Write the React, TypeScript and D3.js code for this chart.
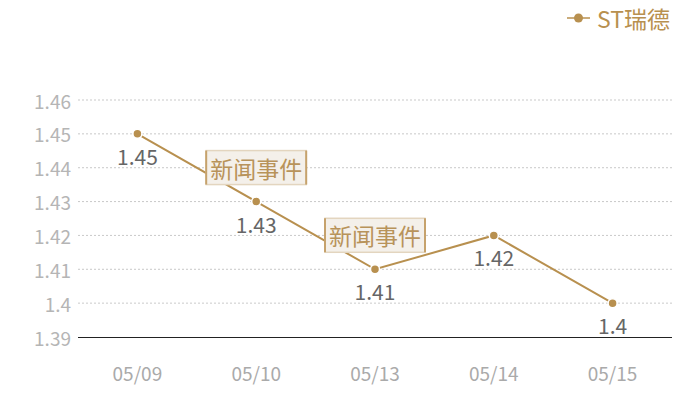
import * as d3 from "d3";

const categories = ["05/09", "05/10", "05/13", "05/14", "05/15"];
const values = [1.45, 1.43, 1.41, 1.42, 1.4];
const yTickValues = [1.39, 1.4, 1.41, 1.42, 1.43, 1.44, 1.45, 1.46];
const eventDates = ["05/10", "05/13"];
const eventLabel = "新闻事件";
const seriesName = "ST瑞德";

const W = 700;
const H = 400;
const margin = { top: 100, right: 28, bottom: 63, left: 78 };
const gold = "#b8904f";
const font = "'Noto Sans CJK SC', 'Noto Sans', sans-serif";

export default function App() {
  const x = d3
    .scaleBand()
    .domain(categories)
    .range([margin.left, W - margin.right]);
  const y = d3
    .scaleLinear()
    .domain([1.39, 1.46])
    .range([H - margin.bottom, margin.top]);
  const cx = (c: string) => (x(c) ?? 0) + x.bandwidth() / 2;

  const line = d3
    .line<number>()
    .x((_, i) => cx(categories[i]))
    .y((v) => y(v));

  return (
    <svg
      width={W}
      height={H}
      style={{ position: "absolute", left: 0, top: 0, fontFamily: font }}
    >
      <rect width={W} height={H} fill="#fff" />

      {/* legend */}
      <line x1={567} x2={590} y1={18} y2={18} stroke={gold} strokeWidth={1.5} />
      <circle cx={578.5} cy={18} r={4.5} fill={gold} />
      <text x={597} y={18} dominantBaseline="central" fontSize={23} fill={gold}>
        {seriesName}
      </text>

      {/* grid */}
      {yTickValues.map((t) => (
        <g key={t}>
          {t !== 1.39 && (
            <line
              x1={margin.left}
              x2={W - margin.right}
              y1={y(t)}
              y2={y(t)}
              stroke="#bbb"
              strokeDasharray="2,2"
              strokeWidth={0.8}
            />
          )}
          <text
            x={margin.left - 7}
            y={y(t)}
            textAnchor="end"
            dominantBaseline="central"
            fontSize={19}
            fill="#b5b5b5"
          >
            {d3.format("")(t)}
          </text>
        </g>
      ))}
      <line
        x1={margin.left}
        x2={W - margin.right}
        y1={Math.round(y(1.39)) + 0.5}
        y2={Math.round(y(1.39)) + 0.5}
        stroke="#222"
        strokeWidth={1}
      />

      {categories.map((c) => (
        <text
          key={c}
          x={cx(c)}
          y={H - margin.bottom + 35}
          textAnchor="middle"
          dominantBaseline="central"
          fontSize={19}
          fill="#aaa"
        >
          {c}
        </text>
      ))}

      {/* series */}
      <path d={line(values) ?? ""} fill="none" stroke={gold} strokeWidth={2} />
      {values.map((v, i) => (
        <g key={i}>
          <circle
            cx={cx(categories[i])}
            cy={y(v)}
            r={4.5}
            fill={gold}
            stroke="#fff"
            strokeWidth={1.5}
          />
          <text
            x={cx(categories[i])}
            y={y(v) + 22}
            textAnchor="middle"
            dominantBaseline="central"
            fontSize={21}
            fill="#666"
          >
            {v}
          </text>
        </g>
      ))}

      {/* events */}
      {eventDates.map((d) => {
        const i = categories.indexOf(d);
        const px = cx(d);
        const py = y(values[i]) - 34;
        return (
          <g key={d}>
            <rect
              x={px - 50}
              y={py - 17}
              width={100}
              height={34}
              fill="#f4f0ea"
              stroke="#e3d5bf"
              strokeWidth={1.5}
            />
            <line x1={px - 50} x2={px - 50} y1={py - 17} y2={py + 17} stroke="#c6a26c" strokeWidth={2} />
            <line x1={px + 50} x2={px + 50} y1={py - 17} y2={py + 17} stroke="#c6a26c" strokeWidth={2} />
            <text
              x={px}
              y={py}
              textAnchor="middle"
              dominantBaseline="central"
              fontSize={23}
              fill="#b8935a"
            >
              {eventLabel}
            </text>
          </g>
        );
      })}
    </svg>
  );
}
